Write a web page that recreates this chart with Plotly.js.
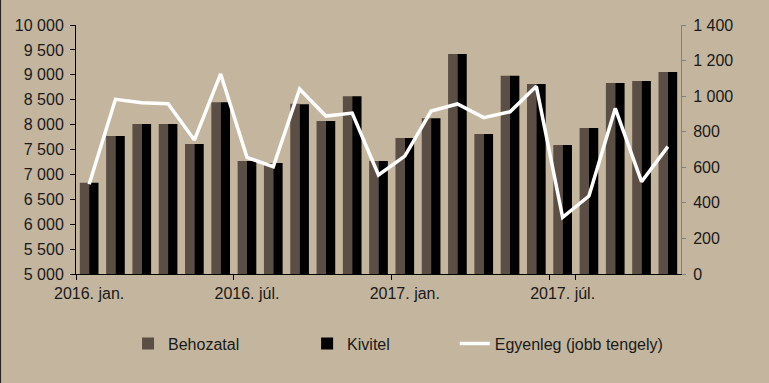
<!DOCTYPE html>
<html>
<head>
<meta charset="utf-8">
<script src="https://cdn.plot.ly/plotly-3.0.1.min.js"></script>
<style>
html,body{margin:0;padding:0;background:#c3b59e;}
#chart{width:769px;height:383px;}
</style>
</head>
<body>
<div id="chart"></div>
<script>
const months = ["2016. jan.","2016. febr.","2016. márc.","2016. ápr.","2016. máj.","2016. jún.","2016. júl.","2016. aug.","2016. szept.","2016. okt.","2016. nov.","2016. dec.",
  "2017. jan.","2017. febr.","2017. márc.","2017. ápr.","2017. máj.","2017. jún.","2017. júl.","2017. aug.","2017. szept.","2017. okt.","2017. nov."];
const behozatal = [6830,7770,8010,8010,7610,8450,7270,7230,8420,8070,8570,7270,7730,8130,9420,7810,8980,8815,7590,7930,8835,8875,9055];
const kivitel   = [6830,7770,8010,8010,7610,8450,7270,7230,8410,8070,8570,7270,7730,8130,9420,7810,8980,8815,7590,7930,8835,8875,9055];
const egyenleg  = [505,982,963,957,753,1125,656,603,1040,888,905,557,663,916,956,879,912,1055,319,438,931,519,716];
const tickLabels = ["2016. jan.","2016. júl.","2017. jan.","2017. júl."];

const font = {family: "Liberation Sans, Arial, sans-serif", size: 16, color: "#1a1a1a"};

const traces = [
  {type:"bar", name:"Behozatal", x:months, y:behozatal, marker:{color:"#5b4e45"}, yaxis:"y", legend:"legend"},
  {type:"bar", name:"Kivitel", x:months, y:kivitel, marker:{color:"#000000"}, yaxis:"y", legend:"legend2"},
  {type:"scatter", mode:"lines", name:"Egyenleg (jobb tengely)", x:months, y:egyenleg, yaxis:"y2", legend:"legend3",
   line:{color:"#ffffff", width:3.5}}
];

function leg(x){
  return {orientation:"h", x:x, xanchor:"left", y:-0.28, yanchor:"middle",
          font:font, bgcolor:"rgba(0,0,0,0)", itemwidth:30};
}

const layout = {
  width:769, height:383,
  paper_bgcolor:"#c3b59e", plot_bgcolor:"#c3b59e",
  font: font,
  separators: ", ",
  margin:{l:76, r:88, t:25, b:109},
  barmode:"group", bargap:0.29, bargroupgap:0,
  showlegend:true,
  legend: leg(0.086),
  legend2: leg(0.382),
  legend3: leg(0.626),
  xaxis:{type:"category", tickmode:"array", tickvals:tickLabels, ticktext:tickLabels, tickangle:0,
         tickson:"boundaries", ticks:"outside", ticklen:5, tickcolor:"#000", ticklabelstandoff:5,
         showline:true, linecolor:"#000", linewidth:1, showgrid:false, zeroline:false,
         tickfont:font},
  yaxis:{range:[5000,10000], dtick:500, tickformat:",d", ticks:"outside", ticklen:5, tickcolor:"#000",
         ticklabelstandoff:3,
         showline:true, linecolor:"#000", linewidth:1, showgrid:false, zeroline:false, tickfont:font},
  yaxis2:{overlaying:"y", side:"right", range:[0,1400], dtick:200, tickformat:",d",
          ticks:"outside", ticklen:4, tickcolor:"#808080", showline:true, linecolor:"#808080",
          ticklabelstandoff:4,
          linewidth:1, showgrid:false, zeroline:false, tickfont:font},
  shapes:[{type:"line", xref:"paper", yref:"paper", x0:-0.1255, x1:-0.1255, y0:-0.44, y1:1.1,
           line:{color:"#2a2520", width:2}}]
};

Plotly.newPlot("chart", traces, layout, {staticPlot:true, displayModeBar:false});
</script>
</body>
</html>
